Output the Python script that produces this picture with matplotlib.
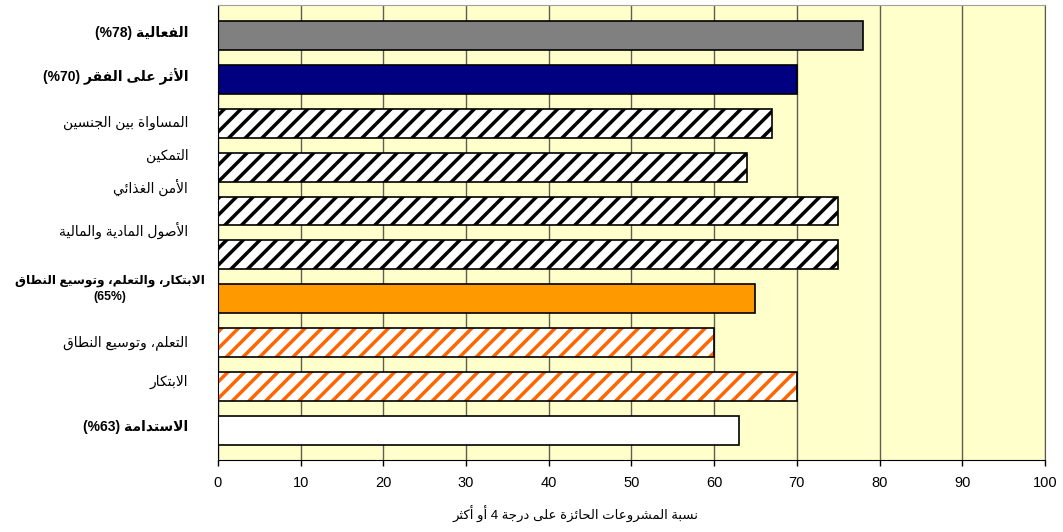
"""Horizontal bar chart: share of projects rated 4 or higher, by criterion."""

import matplotlib

matplotlib.use("Agg")
import matplotlib.pyplot as plt
import matplotlib.transforms as mtransforms
import numpy as np

plt.rcParams["font.family"] = ["Liberation Sans", "DejaVu Sans"]
plt.rcParams["hatch.linewidth"] = 2.5

# data, top to bottom
categories = [
    "الفعالية",
    "الأثر على الفقر",
    "المساواة بين الجنسين",
    "التمكين",
    "الأمن الغذائي",
    "الأصول المادية والمالية",
    "الابتكار، والتعلم، وتوسيع النطاق",
    "التعلم، وتوسيع النطاق",
    "الابتكار",
    "الاستدامة",
]
notes = ["(%78)", "(%70)", "", "", "", "", "(65%)", "", "", "(%63)"]
values = [78, 70, 67, 64, 75, 75, 65, 60, 70, 63]
bold = [True, True, False, False, False, False, True, False, False, True]
x_ticks = list(range(0, 101, 10))
x_label = "نسبة المشروعات الحائزة على درجة 4 أو أكثر"

# styles
face_colors = ["#808080", "#000080", "white", "white", "white", "white",
               "#FF9900", "white", "white", "white"]
hatch_colors = [None, None, "black", "black", "black", "black",
                None, "#FF6600", "#FF6600", None]
label_shift = [-0.07, -0.07, 0.0, -0.25, -0.55, -0.55, -0.23, 0.0, -0.1, -0.07]

# minimal Arabic shaping (matplotlib has no bidi / joining support)
LETTERS = "آأؤإئابةتثجحخدذرزسشصضطظعغفقكلمنهوىي"
FOUR_FORM = set("ئبتثجحخسشصضطظعغفقكلمنهي")
FORMS = {}
code = 0xFE81
for ch in LETTERS:
    n = 4 if ch in FOUR_FORM else 2
    FORMS[ch] = [chr(code + k) for k in range(n)]
    code += n
LAM_ALEF = {"آ": 0xFEF5, "أ": 0xFEF7, "إ": 0xFEF9, "ا": 0xFEFB}


def shape(text):
    out = []
    prev_links = False
    i = 0
    while i < len(text):
        ch = text[i]
        nxt = text[i + 1] if i + 1 < len(text) else ""
        if ch == "ل" and nxt in LAM_ALEF:
            out.append(chr(LAM_ALEF[nxt] + (1 if prev_links else 0)))
            prev_links = False
            i += 2
            continue
        if ch not in FORMS:
            out.append(ch)
            prev_links = False
            i += 1
            continue
        forms = FORMS[ch]
        links_next = len(forms) == 4 and nxt in FORMS
        out.append(forms[(1 if prev_links else 0) + (2 if links_next else 0)])
        prev_links = links_next
        i += 1
    return "".join(reversed(out))


fig = plt.figure(figsize=(10.63, 5.32), dpi=100)
ax = fig.add_axes([0.205, 0.1353, 0.778, 0.8553])
ax.set_facecolor("#FFFFCC")

y = np.arange(len(values))
fills = ax.barh(y, values, height=0.66, color=face_colors, linewidth=0, zorder=2)
for patch, hc in zip(fills, hatch_colors):
    if hc is not None:
        patch.set_hatch("//")
        patch.set_edgecolor(hc)
ax.barh(y, values, height=0.66, fill=False, edgecolor="black",
        linewidth=1.2, zorder=3)

ax.set_xlim(0, 100)
ax.set_ylim(9.68, -0.7)
ax.set_xticks(x_ticks)
ax.tick_params(axis="x", direction="out", length=4.5, width=1.0, pad=7,
               labelsize=10.5)
ax.set_yticks([])
ax.set_axisbelow(True)
ax.grid(axis="x", color="#5f5f50", linewidth=1.0)

ax.spines["left"].set_color("black")
ax.spines["bottom"].set_color("black")
ax.spines["top"].set_color("#a0a0a0")
ax.spines["right"].set_color("#555555")

trans = mtransforms.blended_transform_factory(ax.transAxes, ax.transData)
for i, (name, note) in enumerate(zip(categories, notes)):
    x_text, size = -0.036, 10
    if not note:
        label = shape(name)
    elif i == 6:
        # this one wraps onto two lines in the source chart
        label = shape(name) + "\n" + note
        x_text, size = -0.016, 8.8
    else:
        label = note + " " + shape(name)
    ax.text(x_text, i + label_shift[i], label, transform=trans,
            ha="right", va="center", multialignment="center",
            fontsize=size, fontweight="bold" if bold[i] else "normal",
            linespacing=1.45)

ax.set_xlabel(shape(x_label), fontsize=9.5)
ax.xaxis.set_label_coords(0.432, -0.1)

fig.savefig("out.png", dpi=100)
